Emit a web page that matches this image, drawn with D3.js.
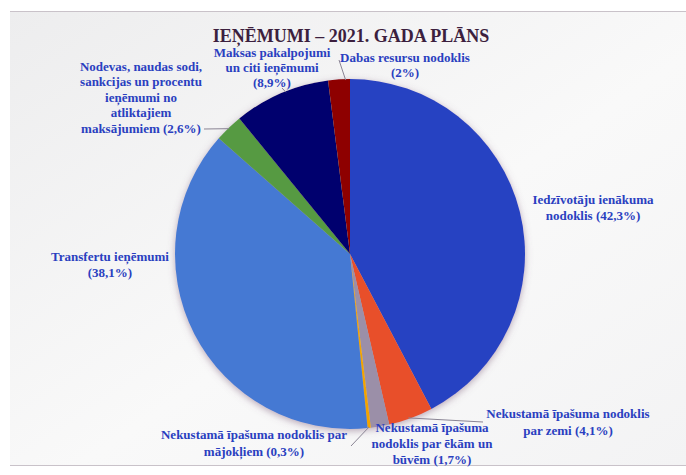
<!DOCTYPE html>
<html>
<head>
<meta charset="utf-8">
<script src="https://cdn.jsdelivr.net/npm/d3@7"></script>
<style>
  body { margin: 0; background: #fff; }
  svg { display: block; }
</style>
</head>
<body>
<div class="chart"></div>
<script>
//Data
var categories = [
    "Iedzīvotāju ienākuma nodoklis",
    "Nekustamā īpašuma nodoklis par zemi",
    "Nekustamā īpašuma nodoklis par ēkām un būvēm",
    "Nekustamā īpašuma nodoklis par mājokļiem",
    "Transfertu ieņēmumi",
    "Nodevas, naudas sodi, sankcijas un procentu ieņēmumi no atliktajiem maksājumiem",
    "Maksas pakalpojumi un citi ieņēmumi",
    "Dabas resursu nodoklis"
];
var shares = [42.3, 4.1, 1.7, 0.3, 38.1, 2.6, 8.9, 2];
var labelLines = [
    ["Iedzīvotāju ienākuma", "nodoklis (42,3%)"],
    ["Nekustamā īpašuma nodoklis", "par zemi (4,1%)"],
    ["Nekustamā īpašuma", "nodoklis par ēkām un", "būvēm (1,7%)"],
    ["Nekustamā īpašuma nodoklis par", "mājokļiem (0,3%)"],
    ["Transfertu ieņēmumi", "(38,1%)"],
    ["Nodevas, naudas sodi,", "sankcijas un procentu", "ieņēmumi no", "atliktajiem", "maksājumiem (2,6%)"],
    ["Maksas pakalpojumi", "un citi ieņēmumi", "(8,9%)"],
    ["Dabas resursu nodoklis", "(2%)"]
];
var title = "IEŅĒMUMI – 2021. GADA PLĀNS";

//Styles and layout
var colors = ["#2843c2", "#e8502b", "#9b8fa8", "#f2a400", "#4479d3", "#569a42", "#00006e", "#8e0000"];
var labelPos = [[593, 199], [568, 413], [432, 427], [254, 434], [110, 256], [141, 66], [272, 52.5], [405, 57]];
var lineH = [16, 17, 16, 17, 16, 15.5, 15, 15];

//Width and height
var w = 686;
var h = 475;
var cx = 350, cy = 254, r = 175;

var svg = d3.select(".chart")
    .append("svg")
    .attr("width", w)
    .attr("height", h);

var defs = svg.append("defs");
var grad = defs.append("linearGradient")
    .attr("id", "bg")
    .attr("x1", 0).attr("y1", 0).attr("x2", 1).attr("y2", 1);
grad.append("stop").attr("offset", "0%").attr("stop-color", "#ededee");
grad.append("stop").attr("offset", "55%").attr("stop-color", "#f9f9f9");
grad.append("stop").attr("offset", "100%").attr("stop-color", "#f3f3f4");

var shadow = defs.append("filter")
    .attr("id", "shadow")
    .attr("x", "-20%").attr("y", "-20%").attr("width", "140%").attr("height", "140%");
shadow.append("feDropShadow")
    .attr("dx", 0).attr("dy", 2)
    .attr("stdDeviation", 3.5)
    .attr("flood-color", "#7a5a78")
    .attr("flood-opacity", 0.5);

//Slide background
svg.append("rect")
    .attr("x", 10).attr("y", 11)
    .attr("width", w - 10).attr("height", 455)
    .attr("fill", "url(#bg)");
svg.append("line")
    .attr("x1", 10).attr("x2", w).attr("y1", 11.5).attr("y2", 11.5)
    .attr("stroke", "#c9c2c9");
svg.append("line")
    .attr("x1", 10).attr("x2", w).attr("y1", 465.5).attr("y2", 465.5)
    .attr("stroke", "#c9c2c9");

//Title
svg.append("text")
    .attr("x", 351)
    .attr("y", 42)
    .attr("text-anchor", "middle")
    .style("font-family", "'Liberation Serif', serif")
    .style("font-weight", "bold")
    .style("font-size", "18px")
    .attr("fill", "#3c1f3e")
    .text(title);

//Pie
var pie = d3.pie().sort(null).value(d => d);
var arcs = pie(shares);
var arc = d3.arc().innerRadius(0).outerRadius(r);

var g = svg.append("g")
    .attr("transform", "translate(" + cx + "," + cy + ")");

g.append("g")
    .attr("filter", "url(#shadow)")
    .selectAll("path")
    .data(arcs)
    .enter()
    .append("path")
    .attr("d", arc)
    .attr("fill", (d, i) => colors[i]);

//Leader lines: from the slice edge to the label
function edgePoint(i, frac) {
    var a = arcs[i];
    var ang = a.startAngle + (a.endAngle - a.startAngle) * frac;
    return [cx + (r - 1) * Math.sin(ang), cy - (r - 1) * Math.cos(ang)];
}
var leaders = [
    [1, 0.55, [[483, 422]]],
    [3, 0.5, [[351, 446]]],
    [5, 0.5, [[204, 129]]],
    [6, 0.55, [[282, 88]]],
    [7, 0.8, [[339, 60]]]
];
leaders.forEach(l => {
    var p = edgePoint(l[0], l[1]);
    svg.append("path")
        .attr("d", d3.line()([p].concat(l[2])))
        .attr("fill", "none")
        .attr("stroke", "#8a8494")
        .attr("stroke-width", 1);
});

//Labels
labelLines.forEach((lines, i) => {
    var t = svg.append("text")
        .attr("text-anchor", "middle")
        .style("font-family", "'Liberation Serif', serif")
        .style("font-weight", "bold")
        .style("font-size", "13px")
        .attr("fill", "#2a3fc0");
    lines.forEach((s, j) => {
        t.append("tspan")
            .attr("x", labelPos[i][0])
            .attr("y", labelPos[i][1] + 4.5 + j * lineH[i])
            .text(s);
    });
});
</script>
</body>
</html>
